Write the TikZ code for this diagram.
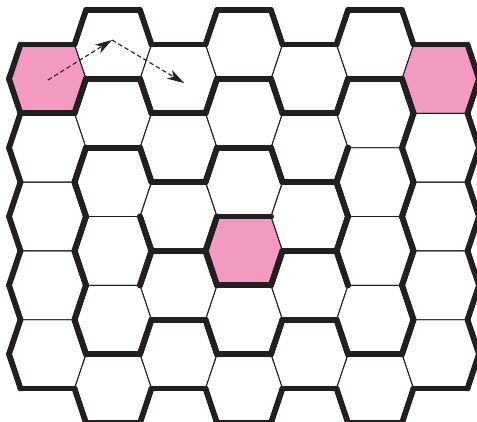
\documentclass[tikz,border=0pt]{standalone}
\usetikzlibrary{arrows.meta}
\definecolor{ink}{HTML}{231F20}
\definecolor{cellpink}{RGB}{243,154,194}
\tikzset{
  wall/.style={draw=ink, line width=5.8pt, line cap=round},
  seam/.style={draw=ink, line width=0.9pt, line join=miter},
  hot/.style={fill=cellpink},
  hop/.style={draw=ink, line width=1.1pt, dash pattern=on 4.5pt off 2.8pt,
    -{Stealth[length=17pt,width=10pt,inset=5pt]}}
}
\newcommand\hexcell[2]{\path[#2] (#1) ++(-27,-34.4) -- ++(54,0) -- ++(11.5,34.4) -- ++(-11.5,34.4) -- ++(-54,0) -- ++(-11.5,-34.4) -- cycle;}
\newcommand\wallside[2]{%
  \ifcase#2\relax
    \path[wall] (#1) ++(-27,-34.4) -- ++(54,0);
  \or \path[wall] (#1) ++(27,-34.4) -- ++(11.5,34.4);
  \or \path[wall] (#1) ++(38.5,0) -- ++(-11.5,34.4);
  \or \path[wall] (#1) ++(27,34.4) -- ++(-54,0);
  \or \path[wall] (#1) ++(-27,34.4) -- ++(-11.5,-34.4);
  \or \path[wall] (#1) ++(-38.5,0) -- ++(11.5,-34.4);
  \fi}
\begin{document}
\begin{tikzpicture}[x=1pt,y=-1pt]
\useasboundingbox (0,0) rectangle (477,421);
\clip (0,0) rectangle (477,421);
% cells along the spiral, with the sides that are thick walls
\def\cells{0/1/{0,2,3,4,5}, 1/0/{0,1,3,5}, 2/1/{0,2,3,4}, 3/0/{0,1,3,5}, 4/1/{0,2,3,4}, 5/0/{0,1,3,5}, 6/1/{0,1,2,4},
6/3/{1,2,4,5}, 6/5/{1,2,4,5}, 6/7/{1,2,4,5}, 6/9/{1,2,3,5},
5/10/{0,2,3,4}, 4/9/{0,1,3,5}, 3/10/{0,2,3,4}, 2/9/{0,1,3,5}, 1/10/{0,2,3,4},
0/9/{1,3,4,5}, 0/7/{1,2,4,5}, 0/5/{1,2,4,5}, 0/3/{0,2,4,5},
1/2/{0,1,3,5}, 2/3/{0,2,3,4}, 3/2/{0,1,3,5}, 4/3/{0,2,3,4}, 5/2/{0,1,2,5},
5/4/{1,2,4,5}, 5/6/{1,2,4,5}, 5/8/{1,2,3,4},
4/7/{0,1,3,5}, 3/8/{0,2,3,4}, 2/7/{0,1,3,5}, 1/8/{2,3,4,5},
1/6/{1,2,4,5}, 1/4/{0,1,4,5}, 2/5/{0,2,3,4}, 3/4/{0,1,3,5}, 4/5/{0,1,2,3}, 3/6/{0,2,3,4,5}}
\foreach \ci/\mi/\ks in \cells {
  \coordinate (c\ci m\mi) at (47.5+65.5*\ci, 44.5+34.4*\mi);
}
% highlighted cells
\hexcell{c0m1}{hot}
\hexcell{c6m1}{hot}
\hexcell{c3m6}{hot}
% thin outlines
\foreach \ci/\mi/\ks in \cells {
  \hexcell{c\ci m\mi}{seam}
}
% thick walls
\foreach \ci/\mi/\ks in \cells {
  \foreach \k in \ks {\wallside{c\ci m\mi}{\k}}
}
% dashed arrows
\coordinate (s0) at (48,80);
\coordinate (s1) at (112,40);
\coordinate (s2) at (184,83);
\draw[hop] (s0) -- (s1);
\draw[hop] (s1) -- (s2);
\end{tikzpicture}
\end{document}
